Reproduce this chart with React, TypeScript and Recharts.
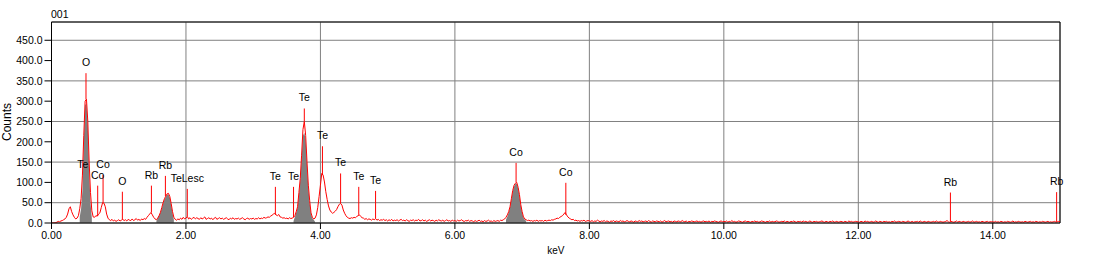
import React from 'react';
import {
  Area,
  CartesianGrid,
  ComposedChart,
  Line,
  ReferenceLine,
  XAxis,
  YAxis,
} from 'recharts';

// spectrum, 0.02 keV per channel
const STEP = 0.02;

const spec0 = [
  0, 0, 0, 1, 2, 4, 3, 5, 6, 8,
  10, 14, 22, 35, 40, 28, 20, 14, 10, 12,
  18, 35, 60, 118, 215, 300, 305, 250, 150, 75,
  30, 15, 14, 18, 17, 22, 25, 38, 50, 49,
  40, 22, 12, 8, 6, 9, 5, 7, 4, 6,
  8, 5, 7, 9, 6, 8, 5, 9, 7, 6,
  10, 6, 8, 11, 7, 9, 6, 10, 8, 11,
  9, 14, 18, 22, 26, 20, 14, 10, 8, 12,
  18, 26, 38, 50, 60, 66, 72, 73, 65, 48,
  28, 14, 9, 7, 10, 8, 12, 9, 14, 10,
];

const spec2 = [
  12, 16, 10, 13, 9, 12, 14, 10, 13, 11,
  9, 13, 10, 12, 15, 9, 11, 13, 10, 12,
  8, 12, 14, 9, 11, 13, 10, 12, 9, 11,
  13, 10, 8, 12, 10, 13, 9, 11, 10, 12,
  9, 11, 13, 10, 8, 11, 12, 9, 11, 10,
  12, 9, 11, 10, 13, 10, 12, 11, 14, 12,
  13, 15, 14, 17, 19, 22, 24, 20, 18, 21,
  15, 14, 12, 13, 11, 12, 10, 13, 11, 12,
  14, 18, 28, 40, 75, 110, 167, 230, 250, 216,
  151, 93, 55, 25, 14, 10, 12, 20, 38, 65,
];

const spec4 = [
  93, 122, 118, 101, 77, 58, 42, 32, 27, 24,
  26, 29, 33, 40, 46, 48, 44, 32, 24, 18,
  14, 12, 11, 13, 12, 14, 13, 16, 18, 20,
  16, 13, 12, 9, 11, 8, 10, 9, 7, 10,
  8, 11, 7, 9, 6, 8, 7, 9, 6, 8,
  5, 8, 6, 9, 5, 7, 6, 8, 5, 7,
  9, 6, 7, 5, 8, 6, 4, 7, 6, 8,
  5, 7, 6, 9, 5, 6, 8, 5, 7, 4,
  6, 8, 5, 7, 6, 4, 7, 5, 8, 6,
  5, 7, 4, 6, 8, 5, 6, 4, 7, 5,
];

const spec6 = [
  6, 4, 7, 5, 6, 8, 5, 4, 6, 5,
  7, 4, 6, 5, 3, 6, 4, 5, 7, 4,
  5, 3, 6, 4, 5, 7, 4, 5, 3, 6,
  4, 5, 6, 4, 7, 6, 8, 10, 14, 20,
  28, 40, 60, 80, 93, 98, 100, 88, 70, 45,
  28, 15, 10, 8, 6, 7, 5, 6, 4, 6,
  5, 7, 4, 6, 5, 6, 4, 7, 5, 6,
  7, 6, 8, 7, 9, 10, 12, 11, 14, 16,
  18, 22, 26, 20, 15, 12, 10, 8, 9, 6,
  7, 5, 6, 4, 6, 5, 7, 4, 5, 6,
];

const spec8 = [
  5, 4, 6, 3, 5, 4, 7, 5, 3, 5,
  4, 6, 3, 5, 4, 2, 5, 4, 6, 3,
  5, 4, 3, 6, 4, 5, 3, 4, 6, 4,
  3, 5, 4, 2, 5, 4, 3, 6, 4, 5,
  3, 4, 5, 3, 6, 4, 2, 5, 4, 3,
  5, 4, 3, 5, 2, 4, 6, 3, 4, 5,
  3, 4, 2, 5, 4, 3, 5, 4, 3, 6,
  4, 3, 5, 2, 4, 3, 5, 4, 3, 4,
  5, 3, 4, 2, 4, 5, 3, 4, 3, 5,
  2, 4, 3, 5, 4, 3, 2, 4, 5, 3,
];

const spec10 = [
  4, 3, 5, 2, 4, 3, 6, 3, 4, 2,
  3, 5, 4, 3, 2, 4, 5, 3, 4, 3,
  2, 4, 3, 5, 3, 4, 2, 3, 5, 4,
  3, 2, 4, 3, 5, 2, 4, 3, 3, 5,
  4, 2, 3, 4, 3, 5, 2, 4, 3, 2,
  4, 3, 5, 3, 2, 4, 3, 4, 2, 5,
  3, 4, 2, 3, 5, 3, 2, 4, 3, 4,
  2, 3, 4, 5, 3, 2, 4, 3, 2, 4,
  3, 5, 2, 3, 4, 2, 3, 4, 3, 2,
  4, 3, 2, 5, 3, 4, 2, 3, 4, 3,
];

const spec12 = [
  3, 2, 4, 3, 2, 5, 3, 4, 2, 3,
  4, 2, 3, 5, 3, 2, 4, 3, 2, 4,
  3, 4, 2, 3, 2, 4, 3, 5, 2, 3,
  4, 3, 2, 4, 3, 2, 3, 5, 3, 2,
  4, 2, 3, 3, 4, 2, 5, 3, 2, 4,
  3, 2, 4, 3, 2, 3, 4, 2, 5, 3,
  2, 4, 3, 2, 3, 4, 6, 3, 2, 4,
  3, 2, 3, 5, 2, 4, 3, 2, 4, 3,
  2, 3, 4, 2, 3, 5, 2, 3, 4, 2,
  3, 2, 4, 3, 2, 3, 4, 2, 3, 3,
];

const spec14 = [
  3, 2, 4, 2, 3, 2, 4, 3, 2, 3,
  2, 4, 3, 2, 3, 5, 2, 3, 2, 4,
  3, 2, 3, 2, 4, 3, 2, 3, 4, 2,
  3, 2, 4, 3, 2, 3, 2, 4, 3, 2,
  3, 4, 2, 3, 2, 3, 4, 2, 3, 4,
  3,
];

// gray peak fits (start keV, then one value per channel)
const fitStarts = [0.42, 1.56, 3.6, 6.76];
const fitO = [15, 35, 80, 200, 290, 295, 240, 130, 50, 12];
const fitRb = [5, 12, 18, 26, 36, 48, 58, 64, 70, 70, 62, 45, 25, 8];
const fitTe = [5, 15, 25, 38, 70, 105, 160, 215, 222, 205, 145, 88, 50, 22, 12, 8, 3];
const fitCo = [8, 16, 26, 38, 58, 78, 90, 96, 97, 86, 68, 43, 26, 13, 8, 5];

// element markers
const markerEnergy = [0.464, 0.513, 0.687, 0.767, 1.054, 1.486, 1.694, 2.02, 3.33, 3.6, 3.76, 4.03, 4.3, 4.57, 4.82, 6.91, 7.65, 13.37, 14.95];
const markerTop = [118, 369, 92, 118, 77, 92, 116, 84, 89, 89, 282, 189, 122, 89, 79, 148, 99, 75, 76];
const markerLabel = ['Te', 'O', 'Co', 'Co', 'O', 'Rb', 'Rb', 'TeLesc', 'Te', 'Te', 'Te', 'Te', 'Te', 'Te', 'Te', 'Co', 'Co', 'Rb', 'Rb'];

const xTicks = [0, 2, 4, 6, 8, 10, 12, 14];
const yTicks = [0, 50, 100, 150, 200, 250, 300, 350, 400, 450];

const spectrum = [...spec0, ...spec2, ...spec4, ...spec6, ...spec8, ...spec10, ...spec12, ...spec14];

const data: { e: number; c: number; fit: number | null }[] = spectrum.map((c, i) => ({
  e: Math.round(i * STEP * 100) / 100,
  c,
  fit: null,
}));

[fitO, fitRb, fitTe, fitCo].forEach((vals, k) => {
  const start = Math.round(fitStarts[k] / STEP);
  vals.forEach((v, j) => {
    data[start + j].fit = v;
  });
});

const FONT = '"Liberation Sans", Arial, sans-serif';

export default function App() {
  return (
    <div style={{ position: 'absolute', left: 0, top: 0, width: 1114, height: 257, background: '#fff', fontFamily: FONT }}>
      <div style={{ position: 'absolute', left: 51, top: 8, fontSize: 10.5, color: '#000' }}>001</div>
      <ComposedChart
        width={1114}
        height={257}
        data={data}
        margin={{ top: 22, right: 54, bottom: 0, left: 0 }}
      >
        <CartesianGrid stroke="#808080" strokeWidth={1} />
        <XAxis
          dataKey="e"
          type="number"
          domain={[0, 15]}
          ticks={xTicks}
          height={34}
          tickFormatter={(v: number) => v.toFixed(2)}
          tick={{ fill: '#000', fontSize: 10.5, fontFamily: FONT }}
          tickSize={6}
          tickMargin={3}
          axisLine={{ stroke: '#000' }}
          tickLine={{ stroke: '#000' }}
          label={{ value: 'keV', position: 'insideBottom', offset: 3, fill: '#000', fontSize: 10, fontFamily: FONT }}
        />
        <YAxis
          type="number"
          domain={[0, 495]}
          ticks={yTicks}
          width={51.5}
          allowDataOverflow
          tickFormatter={(v: number) => v.toFixed(1)}
          tick={{ fill: '#000', fontSize: 10.5, fontFamily: FONT }}
          tickSize={7}
          tickMargin={2}
          axisLine={{ stroke: '#000' }}
          tickLine={{ stroke: '#000' }}
          label={{
            content: () => (
              <text
                x={7}
                y={122}
                transform="rotate(-90 7 122)"
                textAnchor="middle"
                dominantBaseline="central"
                fontSize={12}
                fontFamily={FONT}
                fill="#000"
              >
                Counts
              </text>
            ),
          }}
        />
        <ReferenceLine y={495} stroke="#000" />
        <ReferenceLine x={15} stroke="#000" />
        <Area
          dataKey="fit"
          type="linear"
          stroke="none"
          fill="#808080"
          fillOpacity={1}
          isAnimationActive={false}
          connectNulls={false}
        />
        <Line
          dataKey="c"
          type="linear"
          stroke="#ff0000"
          strokeWidth={1}
          dot={false}
          isAnimationActive={false}
        />
        {markerEnergy.map((e, i) => {
          const base = spectrum[Math.round(e / STEP)];
          return (
            <ReferenceLine
              key={i}
              segment={[
                { x: e, y: base },
                { x: e, y: markerTop[i] },
              ]}
              stroke="#ff0000"
              strokeWidth={1}
              label={{ value: markerLabel[i], position: 'top', offset: 7, fill: '#000', fontSize: 10.5, fontFamily: FONT }}
            />
          );
        })}
      </ComposedChart>
    </div>
  );
}
